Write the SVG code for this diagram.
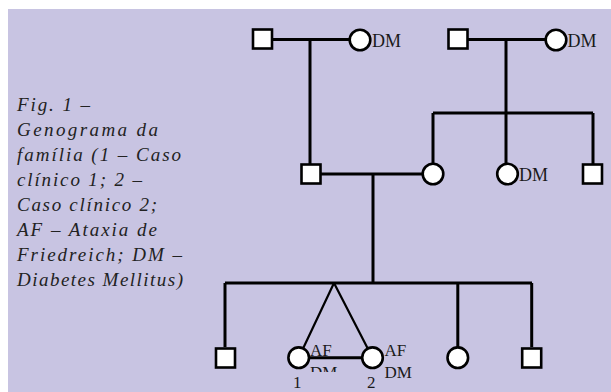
<svg xmlns="http://www.w3.org/2000/svg" width="611" height="392" viewBox="0 0 611 392">
<style>
.bg{fill:#C8C4E2}
.sq{fill:#fff;stroke:#000;stroke-width:2.6}
.ci{fill:#fff;stroke:#000;stroke-width:2.6}
.ln{fill:none;stroke:#000;stroke-width:3;stroke-linecap:butt}
.thin{fill:none;stroke:#000;stroke-width:2.2}
.lbl{font-family:"Liberation Serif","Times New Roman",serif;fill:#1a1a1a}
.cap{font-family:"Liberation Serif","Times New Roman",serif;font-style:italic;font-size:19px;fill:#222}
</style>
<defs>
<clipPath id="clipDM1"><rect x="300" y="300" width="60" height="72"/></clipPath>
</defs>
<rect class="bg" x="8" y="9" width="603" height="383"/>

<g id="caption">
<text class="cap" x="17" y="111" textLength="73" lengthAdjust="spacing">Fig. 1 –</text>
<text class="cap" x="17" y="136" textLength="141" lengthAdjust="spacing">Genograma da</text>
<text class="cap" x="17" y="161" textLength="164" lengthAdjust="spacing">família (1 – Caso</text>
<text class="cap" x="17" y="186" textLength="125" lengthAdjust="spacing">clínico 1; 2 –</text>
<text class="cap" x="17" y="211" textLength="140" lengthAdjust="spacing">Caso clínico 2;</text>
<text class="cap" x="17" y="236" textLength="140" lengthAdjust="spacing">AF – Ataxia de</text>
<text class="cap" x="17" y="261" textLength="165" lengthAdjust="spacing">Friedreich; DM –</text>
<text class="cap" x="17" y="286" textLength="166" lengthAdjust="spacing">Diabetes Mellitus)</text>
</g>

<g id="connectors">
<path class="ln" d="M273 39.5H349 M310 39.5V164"/>
<path class="ln" d="M468 39.5H545 M506 39.5V163"/>
<path class="ln" d="M433 113H593 M433 113V163 M593 113V164"/>
<path class="ln" d="M321 174H422 M373 174V283"/>
<path class="ln" d="M225 283H532 M225 283V347 M457.8 283V347 M531.7 283V347"/>
<path class="thin" d="M334 283L298.7 357.7 M334 283L372.5 357.7"/>
<path class="ln" d="M298.7 357.7H372.5"/>
</g>

<g id="gp1"><rect class="sq" x="253" y="29.5" width="19" height="19"/></g>
<g id="gm1"><circle class="ci" cx="360" cy="40" r="10.3"/><text class="lbl" x="372" y="46.5" font-size="18">DM</text></g>
<g id="gp2"><rect class="sq" x="448.5" y="29.5" width="19" height="19"/></g>
<g id="gm2"><circle class="ci" cx="556" cy="40" r="10.3"/><text class="lbl" x="567.5" y="46.5" font-size="18">DM</text></g>

<g id="father"><rect class="sq" x="301.5" y="164.5" width="19" height="19"/></g>
<g id="mother"><circle class="ci" cx="433" cy="174" r="10.3"/></g>
<g id="aunt"><circle class="ci" cx="507.5" cy="174" r="10.3"/><text class="lbl" x="519" y="181" font-size="18">DM</text></g>
<g id="uncle"><rect class="sq" x="583" y="164.5" width="19" height="19"/></g>

<g id="son1"><rect class="sq" x="216" y="348.5" width="19" height="19"/></g>
<g id="twin1"><circle class="ci" cx="298.7" cy="357.7" r="10.3"/>
<text class="lbl" x="310" y="356" font-size="17">AF</text>
<text class="lbl" x="310" y="378" font-size="17" clip-path="url(#clipDM1)">DM</text>
<text class="lbl" x="293" y="387.5" font-size="17">1</text></g>
<g id="twin2"><circle class="ci" cx="372.5" cy="357.7" r="10.3"/>
<text class="lbl" x="384.5" y="356" font-size="17">AF</text>
<text class="lbl" x="384.5" y="378" font-size="17">DM</text>
<text class="lbl" x="367" y="387.5" font-size="17">2</text></g>
<g id="daughter"><circle class="ci" cx="457.8" cy="357.7" r="10.3"/></g>
<g id="son2"><rect class="sq" x="522.2" y="348.5" width="19" height="19"/></g>
</svg>
